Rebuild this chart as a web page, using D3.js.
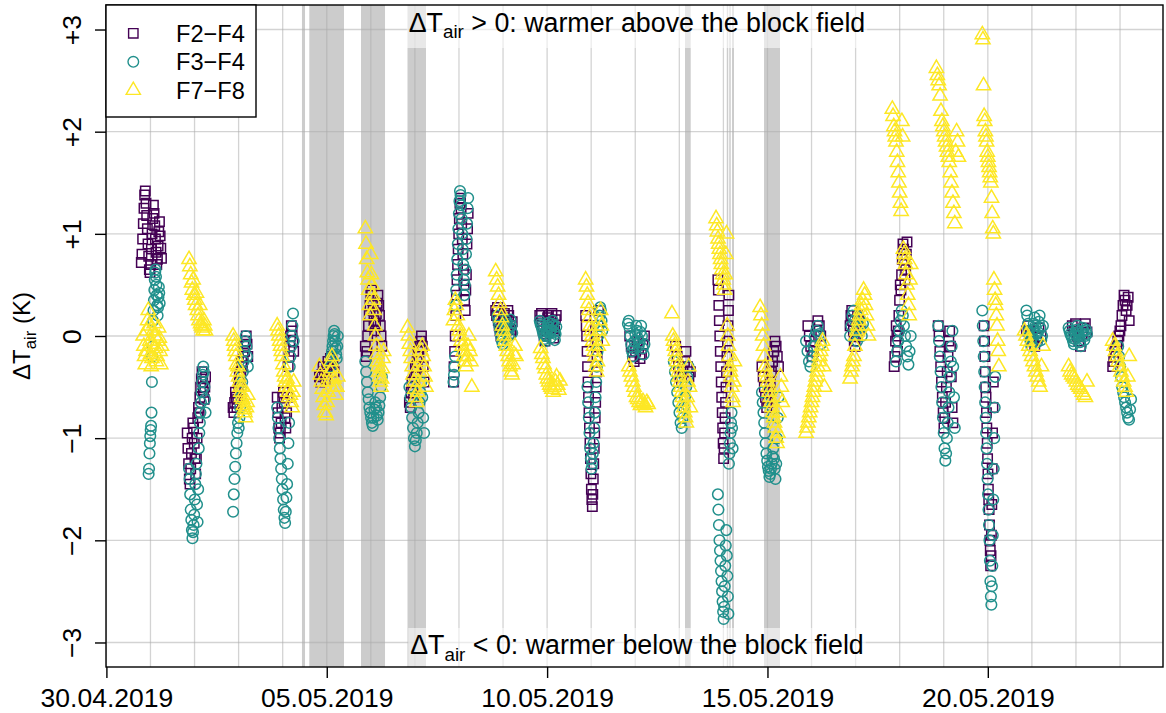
<!DOCTYPE html>
<html><head><meta charset="utf-8">
<script src="https://cdn.jsdelivr.net/npm/d3@7"></script>
<style>
body{margin:0;background:#fff}
svg text{font-family:"Liberation Sans",Arial,Helvetica,sans-serif;fill:#000}
</style>
</head><body>
<svg id="chart" width="1166" height="713"></svg>
<script>
// ---------- data ----------
const xTickDates  = ["2019-04-30","2019-05-05","2019-05-10","2019-05-15","2019-05-20"];
const xTickLabels = ["30.04.2019","05.05.2019","10.05.2019","15.05.2019","20.05.2019"];
const yTicks      = [-3,-2,-1,0,1,2,3];
const yTickLabels = ["\u22123","\u22122","\u22121","0","+1","+2","+3"];
const seriesNames  = ["F2\u2212F4","F3\u2212F4","F7\u2212F8"];
const seriesColors = ["#440154","#21908C","#FDE725"];
const seriesShapes = ["square","circle","triangle"];

// shaded periods (start, end)
const shadedPeriods = [
  ["2019-05-04 10:30","2019-05-04 12:10"],
  ["2019-05-04 14:30","2019-05-05 09:23"],
  ["2019-05-05 18:39","2019-05-06 07:44"],
  ["2019-05-06 19:58","2019-05-07 06:03"],
  ["2019-05-13 03:06","2019-05-13 06:12"],
  ["2019-05-14 01:50","2019-05-14 02:38"],
  ["2019-05-14 03:12","2019-05-14 04:00"],
  ["2019-05-14 04:42","2019-05-14 05:46"],
  ["2019-05-14 22:08","2019-05-15 06:50"]
];

// night clusters: [date, first hour rel. to midnight, last hour, values in time order]
const f2f4 = [
  ["2019-05-01",-5,6,[0.72,0.8,0.95,1.1,1.25,1.38,1.42,1.3,1.18,1.05,0.9,0.78,0.65,0.62,0.7,0.85,1.0,1.15,1.28,1.2,1.08,0.95,0.82,0.7,0.75,0.88,1.02,1.12,0.98,0.86,0.76]],
  ["2019-05-02",-4,6,[-0.95,-1.1,-1.25,-1.4,-1.45,-1.3,-1.15,-1.0,-0.85,-0.9,-1.05,-1.2,-1.35,-1.2,-1.0,-0.8,-0.7,-0.75,-0.6,-0.5,-0.42,-0.35,-0.45,-0.55,-0.62,-0.5,-0.4]],
  ["2019-05-03",-3,5,[-0.7,-0.75,-0.65,-0.55,-0.6,-0.7,-0.62,-0.5,-0.4,-0.45,-0.35,-0.25,-0.3,-0.2,-0.1,-0.15,-0.05,0.0,-0.08,-0.2]],
  ["2019-05-04",-3,6,[-0.6,-0.75,-0.9,-1.0,-0.95,-0.85,-0.7,-0.6,-0.55,-0.65,-0.8,-0.9,-0.75,-0.6,-0.3,-0.2,-0.1,0.0,0.1,0.05,-0.05,-0.15]],
  ["2019-05-05",-4,4,[-0.4,-0.45,-0.38,-0.3,-0.35,-0.42,-0.32,-0.25,-0.3,-0.22,-0.2,-0.28,-0.35]],
  ["2019-05-06",-3,6,[-0.1,-0.2,-0.15,0.0,0.1,0.2,0.3,0.4,0.45,0.35,0.25,0.15,0.05,0.12,0.22,0.32,0.4,0.3,0.2,0.1,0.0,-0.1]],
  ["2019-05-07",-3,5,[-0.65,-0.7,-0.55,-0.45,-0.5,-0.6,-0.4,-0.3,-0.35,-0.25,-0.15,-0.2,-0.1,-0.05,0.0,-0.1,-0.3,-0.45]],
  ["2019-05-08",-3,5,[-0.45,-0.3,-0.15,0.0,0.2,0.4,0.55,0.7,0.85,1.0,1.15,1.3,1.35,1.25,1.1,0.95,0.8,0.65,0.5,0.35,0.25,0.45,0.6,0.9,1.05,1.2]],
  ["2019-05-09",-4,5,[0.25,0.2,0.28,0.15,0.1,0.05,0.0,0.08,0.12,0.18,0.22,0.1,0.05,0.15,0.25,0.2,0.1,0.02,0.06,0.14]],
  ["2019-05-10",-4,5,[0.2,0.15,0.22,0.1,0.05,0.0,-0.05,0.02,0.1,0.18,0.2,0.12,0.05,0.15,0.22,0.08,-0.02,0.05,0.16,0.2]],
  ["2019-05-11",-3,4,[0.2,0.1,0.0,-0.15,-0.3,-0.45,-0.6,-0.75,-0.9,-1.05,-1.2,-1.35,-1.5,-1.6,-1.67,-1.55,-1.4,-1.25,-1.1,-0.95,-0.8,-0.65,-0.5,-0.35,-0.2,-0.05,0.1,0.25]],
  ["2019-05-12",-3,5,[0.0,-0.1,-0.2,-0.25,-0.15,-0.05,-0.12,-0.22,-0.18,-0.08,0.0]],
  ["2019-05-13",-2,6,[-0.1,-0.2,-0.3,-0.4,-0.45,-0.35,-0.25,-0.15,-0.3,-0.4,-0.35]],
  ["2019-05-14",-3,3,[0.55,0.45,0.3,0.15,0.0,-0.15,-0.3,-0.45,-0.6,-0.75,-0.9,-1.05,-1.2,-1.1,-0.95,-0.8,-0.65,-0.5,-0.35,-0.2,-0.05,0.1,0.25,0.4]],
  ["2019-05-15",-3,6,[-0.3,-0.4,-0.5,-0.6,-0.7,-0.65,-0.55,-0.45,-0.35,-0.25,-0.15,-0.05,-0.1,-0.2,-0.3]],
  ["2019-05-16",-2,5,[0.1,0.0,-0.1,-0.2,-0.15,-0.05,0.05,0.15,0.1,0.0]],
  ["2019-05-17",-3,2,[0.1,0.2,0.25,0.15,0.05,-0.05,-0.1,0.0,0.1,0.2,0.15,0.05]],
  ["2019-05-18",-3,4,[-0.3,-0.2,-0.05,0.1,0.0,-0.15,0.05,0.2,0.35,0.5,0.45,0.6,0.75,0.9,0.85,0.7,0.55,0.65,0.8,0.92]],
  ["2019-05-19",-3,5,[0.1,0.0,-0.15,-0.3,-0.45,-0.6,-0.75,-0.9,-0.8,-0.65,-0.5,-0.35,-0.2,-0.05,0.05,-0.1,-0.4,-0.7,-0.85]],
  ["2019-05-20",-2,3,[0.1,-0.05,-0.2,-0.35,-0.5,-0.6,-0.75,-0.9,-1.05,-1.2,-1.35,-1.5,-1.6,-1.7,-1.85,-2.0,-2.1,-2.25,-2.15,-1.95,-1.65,-1.3,-0.95,-0.7,-0.45]],
  ["2019-05-21",-3,5,[0.05,0.1,0.0,-0.05,-0.1,-0.02,0.08,0.0]],
  ["2019-05-22",-2,6,[0.1,0.05,0.12,0.0,-0.05,-0.1,0.02,0.08,0.12,0.04]],
  ["2019-05-23",-4,5,[-0.3,-0.25,-0.15,-0.2,-0.1,-0.05,0.0,0.05,0.1,0.2,0.3,0.4,0.35,0.25,0.3,0.38,0.15]]
];
const f3f4 = [
  ["2019-05-01",-1,5,[-1.35,-1.3,-1.15,-1.05,-0.98,-0.92,-0.88,-0.75,-0.45,-0.2,-0.1,0.15,0.25,0.35,0.45,0.55,0.62,0.65,0.58,0.5,0.4,0.3,0.2,0.28,0.38,0.48,0.42,0.32]],
  ["2019-05-02",-3,6,[-1.3,-1.4,-1.55,-1.7,-1.8,-1.9,-1.98,-1.92,-1.85,-1.75,-1.6,-1.45,-1.35,-1.25,-1.65,-1.82,-1.5,-1.1,-0.95,-0.85,-0.75,-0.65,-0.55,-0.45,-0.38,-0.3,-0.35,-0.5,-0.62,-0.75]],
  ["2019-05-03",-3,5,[-1.72,-1.55,-1.4,-1.28,-1.15,-1.05,-0.95,-0.85,-0.9,-0.8,-0.7,-0.6,-0.5,-0.45,-0.35,-0.25,-0.15,-0.05,0.0,-0.1,-0.2,-0.3]],
  ["2019-05-04",-3,6,[-0.7,-0.8,-0.9,-1.0,-1.1,-1.2,-1.3,-1.4,-1.5,-1.6,-1.7,-1.78,-1.83,-1.72,-1.58,-1.45,-1.25,-1.05,-0.85,-0.3,-0.2,-0.1,0.0,0.1,0.22,-0.05]],
  ["2019-05-05",2,6,[-0.3,-0.25,-0.2,-0.15,-0.1,-0.05,0.0,0.05,0.02,-0.05,-0.12,-0.18,-0.22,-0.1,0.0]],
  ["2019-05-06",-3,6,[-0.25,-0.35,-0.45,-0.55,-0.62,-0.7,-0.75,-0.8,-0.85,-0.88,-0.8,-0.72,-0.65,-0.7,-0.78,-0.82,-0.75,-0.68,-0.6,-0.5,-0.4]],
  ["2019-05-07",-3,5,[-0.5,-0.6,-0.7,-0.8,-0.9,-1.0,-1.08,-1.02,-0.95,-0.85,-0.75,-0.65,-0.55,-0.45,-0.6,-0.8,-0.95]],
  ["2019-05-08",-3,5,[-0.45,-0.38,-0.3,-0.2,0.3,0.45,0.6,0.75,0.9,1.05,1.2,1.32,1.42,1.38,1.28,1.15,1.0,0.85,0.7,0.55,0.4,0.5,0.65,0.8,0.95,1.1,1.25,1.35]],
  ["2019-05-09",-3,5,[0.2,0.15,0.1,0.05,0.0,-0.05,-0.08,-0.02,0.05,0.1,0.15,0.12,0.05,0.0,0.08,0.16,0.1,0.03]],
  ["2019-05-10",-4,5,[0.15,0.12,0.1,0.08,0.05,0.02,0.0,-0.03,-0.05,0.0,0.05,0.1,0.13,0.08,0.03,-0.02,0.06,0.12,0.15,0.1,0.04,-0.04,0.02,0.09]],
  ["2019-05-11",-2,6,[-0.5,-0.65,-0.8,-0.95,-1.1,-1.2,-1.3,-1.25,-1.15,-1.05,-0.9,-0.75,-0.6,-0.45,-0.3,-0.15,0.0,0.1,0.2,0.28,0.25,0.15,0.05]],
  ["2019-05-12",-4,5,[0.12,0.15,0.08,0.0,-0.08,-0.15,-0.2,-0.12,-0.05,0.02,0.1,0.05,-0.02,-0.1,-0.06,0.04,0.1,0.0,-0.12,-0.18,-0.08]],
  ["2019-05-13",-3,5,[-0.25,-0.35,-0.45,-0.55,-0.65,-0.75,-0.85,-0.9,-0.8,-0.7,-0.6,-0.5,-0.4,-0.3]],
  ["2019-05-14",-3,5,[-1.55,-1.7,-1.85,-2.0,-2.1,-2.2,-2.3,-2.4,-2.5,-2.6,-2.7,-2.77,-2.65,-2.45,-2.25,-2.05,-1.9,-2.15,-2.35,-2.55,-2.72,-1.25,-1.15,-1.05,-0.95,-0.85,-0.75,-0.9,-1.1]],
  ["2019-05-15",-3,6,[-0.55,-0.65,-0.75,-0.85,-0.95,-1.05,-1.15,-1.22,-1.28,-1.32,-1.38,-1.35,-1.3,-1.25,-1.18,-1.1,-1.2,-1.3,-1.4,-1.25,-1.0,-0.8,-0.6]],
  ["2019-05-16",-3,5,[-0.05,-0.15,-0.25,-0.3,-0.2,-0.1,0.0,0.05,0.1,0.02,-0.08]],
  ["2019-05-17",-3,4,[0.0,0.1,0.2,0.25,0.15,0.05,-0.05,0.08,0.18,0.1,0.0,0.12]],
  ["2019-05-18",-2,6,[-0.25,-0.15,-0.05,0.05,0.15,0.25,0.2,0.1,0.0,-0.1,-0.2,-0.28,-0.15,0.0]],
  ["2019-05-19",-3,6,[0.1,-0.05,-0.2,-0.35,-0.5,-0.65,-0.8,-0.95,-1.1,-1.22,-1.15,-1.0,-0.85,-0.7,-0.55,-0.4,-0.25,-0.1,0.05,-0.3,-0.6,-0.9]],
  ["2019-05-20",-3,4,[0.25,0.1,-0.05,-0.2,-0.35,-0.5,-0.65,-0.8,-0.95,-1.1,-1.25,-1.4,-1.55,-1.7,-1.85,-2.0,-2.2,-2.4,-2.55,-2.63,-2.45,-2.25,-1.95,-1.6,-1.3,-1.0,-0.7,-0.4]],
  ["2019-05-21",-3,6,[0.25,0.2,0.12,0.05,0.0,-0.05,-0.1,-0.02,0.06,0.12,0.18,0.1,0.02,-0.06,0.04,0.14,0.2,0.08,-0.04,0.0,0.1]],
  ["2019-05-22",-4,6,[0.08,0.05,0.02,0.0,-0.02,-0.05,-0.08,-0.03,0.02,0.06,0.1,0.04,0.0,-0.06,-0.1,0.03,0.08,0.05,-0.04,0.0,0.06,0.02]],
  ["2019-05-23",-1,6,[-0.1,-0.2,-0.3,-0.4,-0.5,-0.55,-0.6,-0.65,-0.7,-0.75,-0.8,-0.82,-0.72,-0.62]]
];
const f7f8 = [
  ["2019-05-01",-4,6,[0.0,-0.1,-0.2,-0.28,-0.15,0.05,0.15,0.25,0.1,-0.05,-0.18,-0.3,-0.22,-0.08,0.05,0.12,0.0,-0.12,-0.25,-0.2,-0.05,0.08,-0.02,-0.15,-0.28,-0.1]],
  ["2019-05-02",-3,6,[0.75,0.68,0.6,0.52,0.45,0.55,0.4,0.35,0.3,0.42,0.25,0.2,0.15,0.3,0.12,0.1,0.08,0.05,0.15,0.1,0.05]],
  ["2019-05-03",-3,5,[0.0,-0.05,-0.1,-0.15,-0.2,-0.28,-0.35,-0.3,-0.4,-0.45,-0.5,-0.55,-0.6,-0.5,-0.62,-0.68,-0.72,-0.75,-0.8,-0.7,-0.65,-0.58]],
  ["2019-05-04",-3,6,[0.1,0.05,0.0,-0.05,-0.1,-0.15,-0.2,-0.28,-0.35,-0.4,-0.45,-0.5,-0.42,-0.55,-0.6,-0.5,-0.58,-0.65,-0.7,-0.55,-0.45]],
  ["2019-05-05",-4,6,[-0.3,-0.38,-0.45,-0.52,-0.6,-0.68,-0.75,-0.78,-0.65,-0.55,-0.45,-0.35,-0.25,-0.2,-0.32,-0.42,-0.5,-0.58,-0.5,-0.4]],
  ["2019-05-06",-3,7,[1.05,0.9,0.75,0.62,0.55,0.45,0.3,0.2,0.8,0.6,0.5,0.4,0.35,0.25,0.1,0.0,-0.1,-0.18,-0.25,-0.3,-0.35,-0.4,-0.45,-0.5,-0.42,-0.32,-0.22,-0.15]],
  ["2019-05-07",-4,6,[0.08,0.0,-0.08,-0.15,-0.22,-0.3,-0.38,-0.45,-0.52,-0.6,-0.65,-0.55,-0.45,-0.35,-0.25,-0.15,-0.1,-0.2,-0.3,-0.4,-0.5]],
  ["2019-05-08",-3,7,[0.15,0.25,0.35,0.3,0.2,0.1,0.05,0.0,-0.05,-0.1,-0.15,-0.2,-0.25,-0.3,-0.2,-0.1,0.0,-0.15,-0.25,-0.5]],
  ["2019-05-09",-4,7,[0.63,0.55,0.48,0.4,0.32,0.25,0.18,0.1,0.05,0.0,-0.05,-0.1,-0.15,-0.2,-0.25,-0.3,-0.35,-0.38,-0.28,-0.18,-0.1,-0.2]],
  ["2019-05-10",-3.5,7,[-0.12,-0.18,-0.22,-0.28,-0.32,-0.38,-0.42,-0.45,-0.48,-0.5,-0.52,-0.55,-0.5,-0.45,-0.4,-0.48,-0.53,-0.44]],
  ["2019-05-11",-3,6,[0.55,0.48,0.4,0.32,0.25,0.18,0.1,0.05,0.0,-0.05,-0.1,-0.15,-0.2,-0.3,-0.35,-0.25,-0.1,0.05,0.15,0.25,0.1,-0.05]],
  ["2019-05-12",-3.5,7,[-0.3,-0.35,-0.4,-0.45,-0.5,-0.55,-0.6,-0.62,-0.65,-0.68,-0.66,-0.64,-0.68,-0.7,-0.65,-0.67]],
  ["2019-05-13",-4,6,[0.22,0.0,-0.05,-0.1,-0.15,-0.2,-0.25,-0.3,-0.35,-0.4,-0.45,-0.5,-0.55,-0.6,-0.65,-0.7,-0.75,-0.8,-0.85,-0.6,-0.45,-0.3,-0.5,-0.7]],
  ["2019-05-14",-4,6,[1.15,1.08,1.02,0.95,0.9,0.85,0.8,0.75,0.7,0.65,0.6,0.55,0.5,0.45,0.6,0.8,1.0,0.1,0.0,-0.1,-0.2,-0.3,-0.35,-0.4,-0.5,-0.6,-0.65,-0.45,-0.25]],
  ["2019-05-15",-4,8,[0.28,0.2,0.1,0.0,-0.1,-0.2,-0.3,-0.35,-0.4,-0.45,-0.5,-0.55,-0.6,-0.65,-0.7,-0.75,-0.8,-0.85,-0.9,-1.0,-1.05,-0.95,-0.75,-0.6,-0.4,-0.5,-0.65]],
  ["2019-05-16",-3,7,[-0.95,-0.9,-0.85,-0.8,-0.75,-0.7,-0.65,-0.6,-0.55,-0.5,-0.45,-0.4,-0.35,-0.3,-0.25,-0.2,-0.15,-0.1,-0.05,-0.3,-0.5]],
  ["2019-05-17",-3,7,[-0.42,-0.35,-0.3,-0.25,-0.2,-0.1,0.0,0.05,0.1,0.15,0.2,0.25,0.3,0.35,0.45,0.4,0.3,0.2,0.1,0.0]],
  ["2019-05-18",-4,6,[2.22,2.15,2.05,2.0,1.95,1.9,1.8,1.7,1.6,1.5,1.4,1.3,1.22,2.1,1.95,0.85,0.8,0.75,0.7,0.6,0.5,0.4,0.3,0.2,0.55,0.7]],
  ["2019-05-19",-4,8,[2.62,2.55,2.5,2.45,2.35,2.2,2.1,2.05,2.0,1.95,1.9,1.85,1.8,1.75,1.7,1.6,1.5,1.4,1.3,1.2,1.1,1.8,2.0,1.9,1.75]],
  ["2019-05-20",-3,6,[2.95,2.9,2.45,2.15,2.1,2.0,1.95,1.9,1.8,1.75,1.7,1.65,1.6,1.55,1.5,1.35,1.2,1.05,1.0,0.55,0.45,0.35,0.3,0.2,0.1,-0.05,-0.15,-0.3]],
  ["2019-05-21",-4,6,[0.05,0.0,-0.05,-0.1,-0.15,-0.2,-0.25,-0.3,-0.35,-0.4,-0.45,-0.5,-0.3,-0.1]],
  ["2019-05-22",-4,6,[-0.3,-0.35,-0.38,-0.4,-0.42,-0.45,-0.48,-0.5,-0.52,-0.55,-0.58,-0.6,-0.45]],
  ["2019-05-23",-4,5,[-0.05,-0.1,-0.15,-0.2,-0.25,-0.3,-0.35,-0.4,-0.45,-0.5,-0.55,-0.4,-0.2]]
];
const annotationTop    = ["\u0394T","air"," > 0: warmer above the block field"];
const annotationBottom = ["\u0394T","air"," < 0: warmer below the block field"];
const yTitle = ["\u0394T","air"," (K)"];

// ---------- drawing ----------
const M = {left:106, right:1163, top:5, bottom:667};
const parseDay = d3.timeParse("%Y-%m-%d");
const parseDT  = d3.timeParse("%Y-%m-%d %H:%M");
const svg = d3.select("#chart");

const x = d3.scaleTime()
  .domain([parseDay("2019-04-30"), parseDay("2019-05-24")])
  .range([106.4, 1164.1]);
const y = d3.scaleLinear().domain([-3.24, 3.24]).range([M.bottom, M.top]);

svg.append("defs").append("clipPath").attr("id","pc")
  .append("rect").attr("x",M.left).attr("y",M.top)
  .attr("width",M.right-M.left).attr("height",M.bottom-M.top);
const plot = svg.append("g").attr("clip-path","url(#pc)");

// shaded periods
plot.selectAll("rect.band").data(shadedPeriods).join("rect")
  .attr("class","band")
  .attr("x", d => x(parseDT(d[0])))
  .attr("width", d => x(parseDT(d[1])) - x(parseDT(d[0])))
  .attr("y", M.top).attr("height", M.bottom - M.top)
  .attr("fill", "#cccccc");

// grid
const gridColor = "rgba(172,172,172,0.53)";
const days = d3.timeDay.range(parseDay("2019-04-30"), parseDay("2019-05-25"));
plot.selectAll("line.vg").data(days).join("line")
  .attr("x1", d => x(d)).attr("x2", d => x(d))
  .attr("y1", M.top).attr("y2", M.bottom)
  .attr("stroke", gridColor).attr("stroke-width", 1.3);
plot.selectAll("line.hg").data(yTicks).join("line")
  .attr("x1", M.left).attr("x2", M.right)
  .attr("y1", d => y(d)).attr("y2", d => y(d))
  .attr("stroke", gridColor).attr("stroke-width", 1.3);

// symbols (R geometry)
const RAD = 5.3;
function symbolPath(shape){
  if (shape === "square"){ const s = RAD*0.88622; return `M${-s},${-s}H${s}V${s}H${-s}Z`; }
  if (shape === "circle"){ const r = RAD; return `M${r},0A${r},${r} 0 1,1 ${-r},0A${r},${r} 0 1,1 ${r},0Z`; }
  const r = 1.5551*RAD, xc = 1.3468*RAD, yc = 0.77755*RAD;
  return `M0,${-r}L${xc},${yc}L${-xc},${yc}Z`;
}
function expand(clusters){
  const out = [];
  clusters.forEach(([d,h0,h1,vals]) => {
    const base = parseDay(d).getTime(), n = vals.length;
    vals.forEach((v,i) => {
      const h = n > 1 ? h0 + (h1-h0)*i/(n-1) : (h0+h1)/2;
      out.push({t: new Date(base + h*3600e3), v});
    });
  });
  return out;
}
[f2f4, f3f4, f7f8].forEach((s, si) => {
  plot.append("g").selectAll("path").data(expand(s)).join("path")
    .attr("transform", d => `translate(${x(d.t)},${y(d.v)})`)
    .attr("d", symbolPath(seriesShapes[si]))
    .attr("fill","none").attr("stroke", seriesColors[si]).attr("stroke-width",1.5);
});

// annotation boxes
function richText(g, parts, size){
  const t = g.append("text").attr("font-size", size);
  t.append("tspan").text(parts[0]);
  t.append("tspan").attr("font-size", size*0.7).attr("dy", size*0.25).text(parts[1]);
  t.append("tspan").attr("dy", -size*0.25).text(parts[2]);
  return t;
}
function annotation(parts, yTopBox, hBox, baseline){
  const g = svg.append("g");
  const rect = g.append("rect").attr("fill","#fff").attr("fill-opacity",0.55);
  const t = richText(g, parts, 26.8).attr("text-anchor","middle")
    .attr("x", 637).attr("y", baseline);
  const bb = t.node().getBBox();
  rect.attr("x", bb.x-2).attr("width", bb.width+4).attr("y", yTopBox).attr("height", hBox);
}
annotation(annotationTop, M.top, 43, 31.5);
annotation(annotationBottom, 628, M.bottom-628, 654);

// axes
const xAxis = d3.axisBottom(x)
  .tickValues(xTickDates.map(parseDay))
  .tickFormat((d,i) => xTickLabels[i])
  .tickSize(11);
const gx = svg.append("g").attr("transform", `translate(0,${M.bottom})`).call(xAxis);
gx.select(".domain").remove();
gx.selectAll(".tick line").attr("stroke","#000").attr("stroke-width",1.4);
gx.selectAll(".tick text").attr("y", 39.5).attr("dy", 0)
  .attr("font-size", 26.5).attr("font-family", null).attr("fill","#000");

const yAxis = d3.axisLeft(y).tickValues(yTicks)
  .tickFormat((d,i) => yTickLabels[i]).tickSize(11);
const gy = svg.append("g").attr("transform", `translate(${M.left},0)`).call(yAxis);
gy.select(".domain").remove();
gy.selectAll(".tick line").attr("stroke","#000").attr("stroke-width",1.4);
gy.selectAll(".tick text").attr("x", 0).attr("dy", 0)
  .attr("transform", "translate(-25.5,0) rotate(-90)")
  .attr("text-anchor","middle")
  .attr("font-size", 26.5).attr("font-family", null).attr("fill","#000");

// y title
richText(svg.append("g").attr("transform", `translate(30,${(M.top+M.bottom)/2}) rotate(-90)`), yTitle, 24)
  .attr("text-anchor","middle");

// plot border
svg.append("rect").attr("x", M.left).attr("y", M.top)
  .attr("width", M.right-M.left).attr("height", M.bottom-M.top)
  .attr("fill","none").attr("stroke","#000").attr("stroke-width",1.4);

// legend
const lg = svg.append("g");
lg.append("rect").attr("x", M.left).attr("y", M.top).attr("width", 150).attr("height", 112)
  .attr("fill","#fff").attr("stroke","#000").attr("stroke-width",1.4);
seriesNames.forEach((n,i) => {
  const cy = 33.3 + i*28.5;
  lg.append("path").attr("transform", `translate(133.3,${cy})`)
    .attr("d", symbolPath(seriesShapes[i]))
    .attr("fill","none").attr("stroke", seriesColors[i]).attr("stroke-width",1.4);
  lg.append("text").attr("x", 176).attr("y", cy + 8.5).attr("font-size", 23.6).text(n);
});
</script>
</body></html>
